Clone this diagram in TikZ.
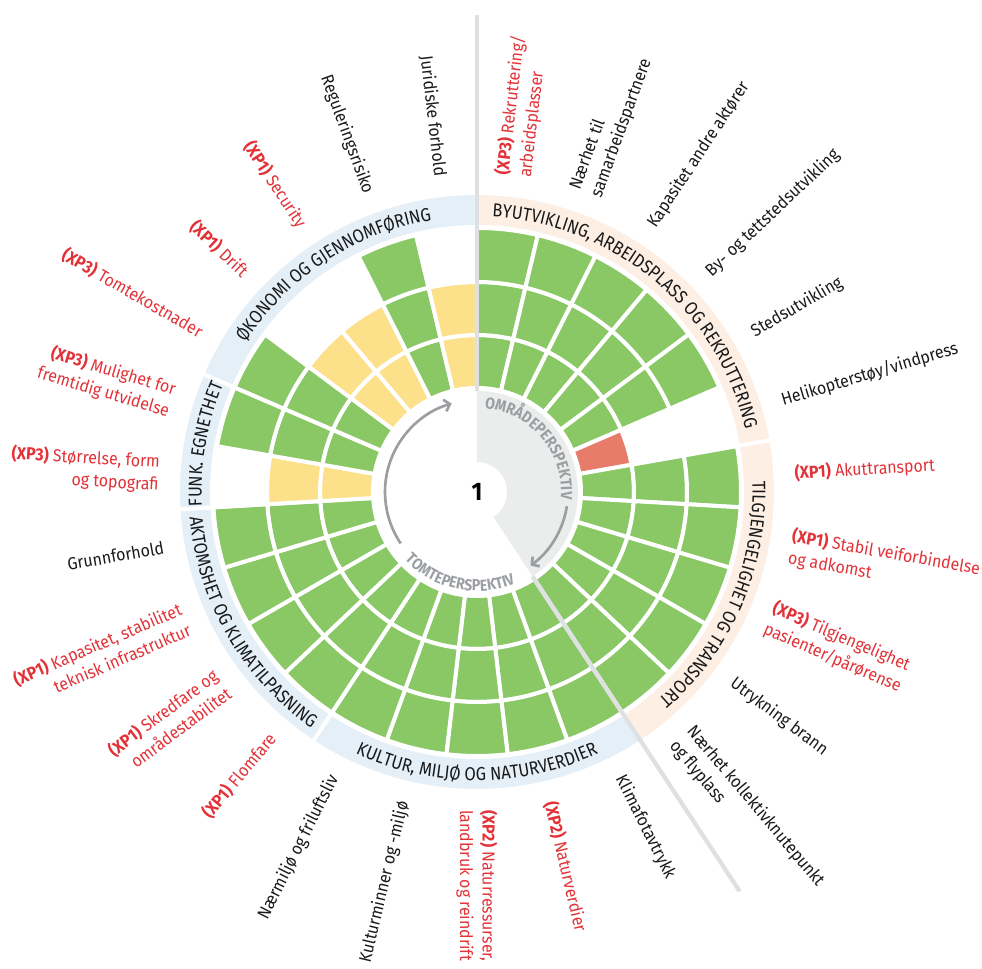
\documentclass[tikz,border=0pt]{standalone}
\usepackage{fontspec}
\setmainfont{Fira Sans}[FakeStretch=0.92]
\newfontfamily\bandfont{Fira Sans}[FakeStretch=0.88]
\newfontfamily\persfont{Fira Sans}[FakeStretch=0.88]
\usetikzlibrary{arrows.meta,decorations.text}

\definecolor{gronn}{HTML}{8AC765}
\definecolor{gul}{HTML}{FCE08A}
\definecolor{rod}{HTML}{E87C6A}
\definecolor{bandfersken}{HTML}{FDEFE4}
\definecolor{bandbla}{HTML}{E4EFF8}
\definecolor{indregra}{HTML}{EBECEC}
\definecolor{linjegra}{HTML}{DEE0E1}
\definecolor{pilgra}{HTML}{9B9EA2}
\definecolor{tekstrod}{HTML}{E23238}
\definecolor{tekstsvart}{HTML}{1A1A1A}

\tikzset{
  cell/.style={draw=white, line width=3pt},
  bandp/.style={fill=bandfersken, draw=white, line width=3pt},
  bandb/.style={fill=bandbla, draw=white, line width=3pt},
  sepline/.style={draw=linjegra, line width=3.2pt},
  perspil/.style={draw=pilgra, line width=2pt, -{Straight Barb[length=4pt,width=9pt]}},
  bandtext/.style={decorate, decoration={text along path, text align=center,
      text={|\bandfont\fontsize{14}{16}\selectfont\color{tekstsvart}|#1}}},
  perstext/.style={decorate, decoration={text along path, text align=center,
      text={|\persfont\bfseries\fontsize{12}{13}\selectfont\color{pilgra}|#1}}},
  lab/.style={inner sep=0pt, text=tekstsvart, font=\fontsize{13}{17}\selectfont},
  labr/.style={lab, text=tekstrod},
  rlab/.style={anchor=west, align=left},
  llab/.style={anchor=east, align=right},
}

% one piece of a ring: style, start angle, end angle, inner radius, outer radius
\newcommand{\ringpiece}[5]{%
  \path[#1] (#2:#4) arc[start angle=#2, end angle=#3, radius=#4]
    -- (#3:#5) arc[start angle=#3, end angle=#2, radius=#5] -- cycle;}

\begin{document}
\begin{tikzpicture}[x=0.75pt,y=0.75pt]
\useasboundingbox (-477,-477) rectangle (505,492);

% omraadeperspektiv
\path[fill=indregra] (90:30) -- (90:101) arc[start angle=90, end angle=-56.667, radius=101]
  -- (-56.667:30) arc[start angle=-56.667, end angle=90, radius=30] -- cycle;

% cells, inner to outer ring
\foreach \k/\ca/\cb/\cc in {1/gronn/gronn/gronn, 2/gronn/gronn/gronn, 3/gronn/gronn/gronn,
    4/gronn/gronn/gronn, 5/gronn/gronn/gronn, 6/rod/none/none,
    7/gronn/gronn/gronn, 8/gronn/gronn/gronn, 9/gronn/gronn/gronn,
    10/gronn/gronn/gronn, 11/gronn/gronn/gronn, 12/gronn/gronn/gronn,
    13/gronn/gronn/gronn, 14/gronn/gronn/gronn, 15/gronn/gronn/gronn,
    16/gronn/gronn/gronn, 17/gronn/gronn/gronn, 18/gronn/gronn/gronn,
    19/gronn/gronn/gronn, 20/gronn/gronn/gronn, 21/gul/gul/none,
    22/gronn/gronn/gronn, 23/gronn/gronn/gronn, 24/gul/gul/none,
    25/gul/gul/none, 26/gronn/gronn/gronn, 27/gul/gul/none}{
  \pgfmathsetmacro\sa{90-(\k-1)*360/27}
  \pgfmathsetmacro\ea{90-\k*360/27}
  \ringpiece{cell, fill=\ca}{\sa}{\ea}{104}{157}
  \ringpiece{cell, fill=\cb}{\sa}{\ea}{157}{210}
  \ringpiece{cell, fill=\cc}{\sa}{\ea}{210}{264}
}

% category bands
\ringpiece{bandp}{90}{10}{265}{299}
\ringpiece{bandp}{10}{-56.667}{265}{299}
\ringpiece{bandb}{-56.667}{-123.333}{265}{299}
\ringpiece{bandb}{-123.333}{-176.667}{265}{299}
\ringpiece{bandb}{-176.667}{-203.333}{265}{299}
\ringpiece{bandb}{156.667}{90}{265}{299}

\path[bandtext={BYUTVIKLING, ARBEIDSPLASS OG REKRUTTERING}] (90:275.5) arc[start angle=90, end angle=10, radius=275.5];
\path[bandtext={TILGJENGELIGHET OG TRANSPORT}] (10:275.5) arc[start angle=10, end angle=-56.667, radius=275.5];
\path[bandtext={KULTUR, MILJØ OG NATURVERDIER}] (-123.333:288.5) arc[start angle=-123.333, end angle=-56.667, radius=288.5];
\path[bandtext={AKTOMSHET OG KLIMATILPASNING}] (-176.667:288.5) arc[start angle=-176.667, end angle=-123.333, radius=288.5];
\path[bandtext={FUNK. EGNETHET}] (183.333:275.5) arc[start angle=183.333, end angle=156.667, radius=275.5];
\path[bandtext={ØKONOMI OG GJENNOMFØRING}] (156.667:275.5) arc[start angle=156.667, end angle=90, radius=275.5];

% dividers
\draw[sepline] (90:101) -- (90:477);
\draw[sepline] (-56.667:101) -- (-56.667:478);

% perspectives
\draw[perspil] (214:92) arc[start angle=214, end angle=106, radius=92];
\draw[perspil] (-9:91) arc[start angle=-9, end angle=-54, radius=91];
\path[perstext={OMRÅDEPERSPEKTIV}] (88:84) arc[start angle=88, end angle=-8, radius=84];
\path[perstext={TOMTEPERSPEKTIV}] (-142:99) arc[start angle=-142, end angle=-62, radius=99];

\node[font=\bfseries\fontsize{19}{20}\selectfont, text=black] (c) at (0,0) {1};

% labels
\node[labr, rlab, rotate=83.333] (lab1) at (83.333:318) {\textbf{(XP3)} Rekruttering/\\arbeidsplasser};
\node[lab, rlab, rotate=70] (lab2) at (70:318) {Nærhet til\\samarbeidspartnere};
\node[lab, rlab, rotate=56.667] (lab3) at (56.667:318) {Kapasitet andre aktører};
\node[lab, rlab, rotate=43.333] (lab4) at (43.333:318) {By- og tettstedsutvikling};
\node[lab, rlab, rotate=30] (lab5) at (30:318) {Stedsutvikling};
\node[lab, rlab, rotate=16.667] (lab6) at (16.667:318) {Helikopterstøy/vindpress};
\node[labr, rlab, rotate=3.333] (lab7) at (3.333:318) {\textbf{(XP1)} Akuttransport};
\node[labr, rlab, rotate=-10] (lab8) at (-10:318) {\textbf{(XP1)} Stabil veiforbindelse\\og adkomst};
\node[labr, rlab, rotate=-23.333] (lab9) at (-23.333:318) {\textbf{(XP3)} Tilgjengelighet\\pasienter/pårørense};
\node[lab, rlab, rotate=-36.667] (lab10) at (-36.667:318) {Utrykning brann};
\node[lab, rlab, rotate=-50] (lab11) at (-50:318) {Nærhet kollektivknutepunkt\\og flyplass};
\node[lab, rlab, rotate=-63.333] (lab12) at (-63.333:318) {Klimafotavtrykk};
\node[labr, rlab, rotate=-76.667] (lab13) at (-76.667:318) {\textbf{(XP2)} Naturverdier};
\node[labr, rlab, rotate=-90] (lab14) at (-90:318) {\textbf{(XP2)} Naturressurser,\\landbruk og reindrift};
\node[lab, llab, rotate=76.667] (lab15) at (-103.333:318) {Kulturminner og -miljø};
\node[lab, llab, rotate=63.333] (lab16) at (-116.667:318) {Nærmiljø og friluftsliv};
\node[labr, llab, rotate=50] (lab17) at (-130:318) {\textbf{(XP1)} Flomfare};
\node[labr, llab, rotate=36.667] (lab18) at (-143.333:318) {\textbf{(XP1)} Skredfare og\\områdestabilitet};
\node[labr, llab, rotate=23.333] (lab19) at (-156.667:318) {\textbf{(XP1)} Kapasitet, stabilitet\\teknisk infrastruktur};
\node[lab, llab, rotate=10] (lab20) at (-170:318) {Grunnforhold};
\node[labr, llab, rotate=-3.333] (lab21) at (176.667:318) {\textbf{(XP3)} Størrelse, form\\og topografi};
\node[labr, llab, rotate=-16.667] (lab22) at (163.333:318) {\textbf{(XP3)} Mulighet for\\fremtidig utvidelse};
\node[labr, llab, rotate=-30] (lab23) at (150:318) {\textbf{(XP3)} Tomtekostnader};
\node[labr, llab, rotate=-43.333] (lab24) at (136.667:318) {\textbf{(XP1)} Drift};
\node[labr, llab, rotate=-56.667] (lab25) at (123.333:318) {\textbf{(XP1)} Security};
\node[lab, llab, rotate=-70] (lab26) at (110:318) {Reguleringsrisiko};
\node[lab, llab, rotate=-83.333] (lab27) at (96.667:318) {Juridiske forhold};
\end{tikzpicture}
\end{document}
